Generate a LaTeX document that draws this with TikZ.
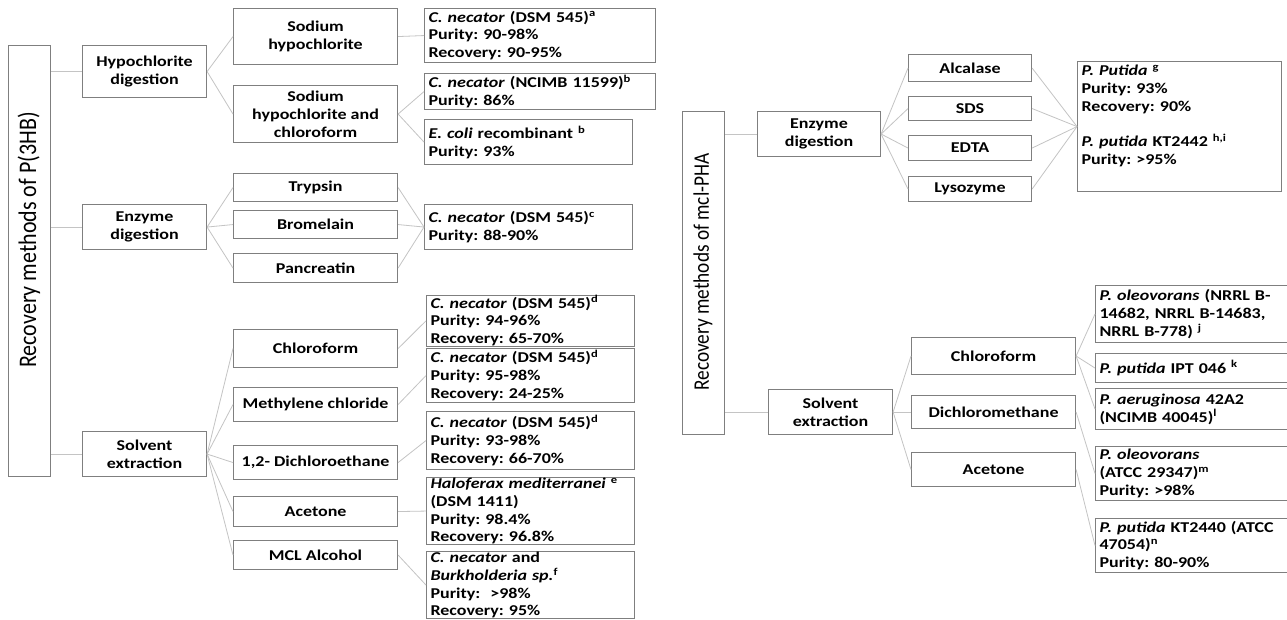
\documentclass[tikz,border=0pt]{standalone}
\usepackage{fontspec}
\setmainfont{Carlito}[FakeStretch=1.2]
\newfontfamily\titlefont{Carlito}
\definecolor{boxgray}{HTML}{7F7F7F}
\definecolor{linegray}{HTML}{C4C4C4}
\tikzset{
  box/.style={draw=boxgray, line width=1.1pt, inner sep=0pt, align=center,
    font=\bfseries\fontsize{15}{17.8}\selectfont},
  resbox/.style={box, align=left, inner xsep=4pt},
  link/.style={draw=linegray, line width=0.8pt},
  titletext/.style={font=\titlefont\fontsize{#1}{#1}\selectfont, inner sep=0pt, rotate=90}
}
\newcommand\bx[7]{\node[#6, anchor=north west, minimum width={(#4-#2)*1pt}, minimum height={(#5-#3)*1pt}] (#1) at (#2,#3) {#7};}
\newcommand\rb[6]{\node[resbox, anchor=north west, text width={(#4-#2-8)*1pt}, minimum height={(#5-#3)*1pt}] (#1) at (#2,#3) {#6};}
\newcommand\sps[1]{\textsuperscript{#1}}
\frenchspacing
\begin{document}
\begin{tikzpicture}[x=1pt,y=-1pt]
\fill[white] (0,0) rectangle (1287,619);
\useasboundingbox (0,0) rectangle (1287,619);
\clip (0,0) rectangle (1287,619);
% ---------------- left tree ----------------
\bx{tA}{8}{45}{50}{476}{box}{}
\node[titletext=22] (tAt) at (29,240) {\scalebox{1}[1.15]{Recovery methods of P(3HB)}};
\bx{hyp}{82}{45}{206}{97}{box}{Hypochlorite\\digestion}
\bx{enzL}{82}{204}{206}{249}{box}{Enzyme\\digestion}
\bx{solL}{82}{431}{206}{476}{box}{Solvent\\extraction}
\bx{naocl}{233}{8}{397}{64}{box}{Sodium\\hypochlorite}
\bx{naoclch}{233}{85}{397}{142}{box}{Sodium\\hypochlorite and\\chloroform}
\bx{tryp}{233}{173}{397}{201}{box}{Trypsin}
\bx{brom}{233}{210}{397}{238}{box}{Bromelain}
\bx{panc}{233}{253}{397}{282}{box}{Pancreatin}
\bx{chlL}{233}{329}{397}{367}{box}{Chloroform}
\bx{meth}{233}{387}{397}{421}{box}{Methylene chloride}
\bx{dce}{233}{445}{397}{479}{box}{1,2- Dichloroethane}
\bx{aceL}{233}{496}{397}{526}{box}{Acetone}
\bx{mclL}{233}{540}{397}{569}{box}{MCL Alcohol}
\rb{rA}{424}{8}{655}{62}{\textit{C. necator} (DSM 545)\sps{a}\\Purity: 90-98\%\\Recovery: 90-95\%}
\rb{rB}{424}{73}{655}{109}{\textit{C. necator} (NCIMB 11599)\sps{b}\\Purity: 86\%}
\rb{rE}{424}{119}{632}{164}{\textit{E. coli} recombinant \sps{b}\\Purity: 93\%}
\rb{rC}{424}{204}{632}{249}{\textit{C. necator} (DSM 545)\sps{c}\\Purity: 88-90\%}
\rb{rD1}{426}{295}{634}{343}{\textit{C. necator} (DSM 545)\sps{d}\\Purity: 94-96\%\\Recovery: 65-70\%}
\rb{rD2}{426}{348}{634}{402}{\textit{C. necator} (DSM 545)\sps{d}\\Purity: 95-98\%\\Recovery: 24-25\%}
\rb{rD3}{426}{411}{634}{469}{\textit{C. necator} (DSM 545)\sps{d}\\Purity: 93-98\%\\Recovery: 66-70\%}
\rb{rH}{426}{477}{634}{544}{\textit{Haloferax mediterranei} \sps{e}\\(DSM 1411)\\Purity: 98.4\%\\Recovery: 96.8\%}
\rb{rM}{426}{551}{634}{618}{\textit{C. necator} and\\\textit{Burkholderia sp.}\sps{f}\\Purity:~ >98\%\\Recovery: 95\%}
% connectors left
\foreach \c in {hyp,enzL,solL} \draw[link] (tA.east |- \c.west) -- (\c.west);
\foreach \c in {naocl,naoclch} \draw[link] (hyp.east) -- (\c.west);
\foreach \c in {tryp,brom,panc} \draw[link] (enzL.east) -- (\c.west);
\foreach \c in {chlL,meth,dce,aceL,mclL} \draw[link] (solL.east) -- (\c.west);
\draw[link] (naocl.east) -- (rA.west);
\draw[link] (naoclch.east) -- (rB.west);
\draw[link] (naoclch.east) -- (rE.west);
\foreach \c in {tryp,brom,panc} \draw[link] (\c.east) -- (rC.west);
\draw[link] (chlL.east) -- (rD1.west);
\draw[link] (meth.east) -- (rD2.west);
\draw[link] (dce.east) -- (rD3.west);
\draw[link] (aceL.east) -- (rH.west);
\draw[link] (mclL.east) -- (rM.west);
% ---------------- right tree ----------------
\bx{tB}{682}{111}{724}{434}{box}{}
\node[titletext=19.3] (tBt) at (703,272) {\scalebox{1}[1.15]{Recovery methods of mcl-PHA}};
\bx{enzR}{757}{111}{880}{156}{box}{Enzyme\\digestion}
\bx{solR}{768}{389}{892}{434}{box}{Solvent\\extraction}
\bx{alc}{908}{54}{1031}{81}{box}{Alcalase}
\bx{sds}{908}{96}{1031}{120}{box}{SDS}
\bx{edta}{908}{135}{1031}{160}{box}{EDTA}
\bx{lys}{908}{176}{1031}{201}{box}{Lysozyme}
\rb{rP}{1077}{61}{1281}{191}{\textit{P. Putida} \sps{g}\\Purity: 93\%\\Recovery: 90\%\\[17.8pt]\textit{P. putida} KT2442 \sps{h,i}\\Purity: >95\%\\\strut}
\bx{chlR}{911}{337}{1075}{374}{box}{Chloroform}
\bx{dcm}{911}{395}{1075}{428}{box}{Dichloromethane}
\bx{aceR}{911}{452}{1075}{486}{box}{Acetone}
\rb{r1}{1095}{285}{1300}{342}{\textit{P. oleovorans} (NRRL B-\\14682, NRRL B-14683,\\NRRL B-778) \sps{j}}
\rb{r2}{1095}{353}{1300}{382}{\textit{P. putida} IPT 046 \sps{k}}
\rb{r3}{1095}{388}{1300}{429}{\textit{P. aeruginosa} 42A2\\(NCIMB 40045)\sps{l}}
\rb{r4}{1095}{446}{1300}{500}{\textit{P. oleovorans}\\(ATCC 29347)\sps{m}\\Purity: >98\%}
\rb{r5}{1095}{518}{1300}{572}{\textit{P. putida} KT2440 (ATCC\\47054)\sps{n}\\Purity: 80-90\%}
% connectors right
\foreach \c in {enzR,solR} \draw[link] (tB.east |- \c.west) -- (\c.west);
\foreach \c in {alc,sds,edta,lys} {
  \draw[link] (enzR.east) -- (\c.west);
  \draw[link] (\c.east) -- (rP.west);
}
\foreach \c in {chlR,dcm,aceR} \draw[link] (solR.east) -- (\c.west);
\foreach \c in {r1,r2,r3} \draw[link] (chlR.east) -- (\c.west);
\draw[link] (dcm.east) -- (r4.west);
\draw[link] (aceR.east) -- (r5.west);
\end{tikzpicture}
\end{document}
